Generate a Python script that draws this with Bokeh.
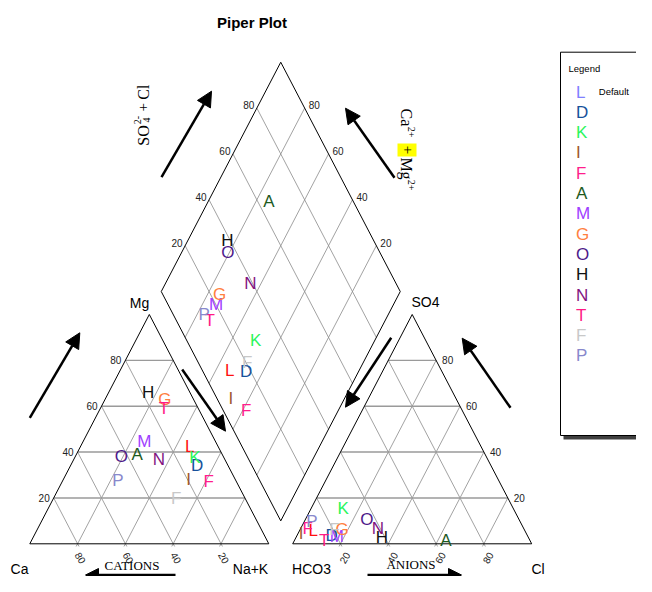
import numpy as np
from bokeh.plotting import figure
from bokeh.models import Range1d, Arrow, NormalHead, ColumnDataSource
from bokeh.core.properties import value
from bokeh.embed import file_html
from bokeh.resources import INLINE

# ---------------- data ----------------
labels = ["L", "D", "K", "I", "F", "A", "M", "G", "O", "H", "N", "T", "F", "P"]
colors = ["#FF1010", "#17519B", "#2BF55C", "#A0582D", "#FF1E8C", "#1D5A1D", "#A040FF",
          "#FF8040", "#4E1A8A", "#111111", "#82137F", "#FF1A85", "#C8C8C8", "#8888CC"]
legend_colors = ["#8080FF", "#17519B", "#2BF55C", "#A0582D", "#FF1E8C", "#1D5A1D", "#A040FF",
                 "#FF8040", "#4E1A8A", "#111111", "#82137F", "#FF1A85", "#C8C8C8", "#8888CC"]
# cations (%)
ca  = [11.9, 12.8, 12.1, 19.5, 11.6, 35.5, 29.8, 12.1, 42.7, 17.5, 27.6, 14.5, 28.9, 49.3]
mg  = [42.3, 34.3, 37.7, 28.0, 27.0, 39.1, 44.5, 62.8, 37.9, 66.0, 36.8, 58.8, 19.7, 27.7]
nak = [45.8, 52.9, 50.2, 52.5, 61.4, 25.4, 25.7, 25.1, 19.4, 16.5, 35.6, 26.7, 51.4, 23.0]
# anions (%)
hco3 = [88.5, 81.9, 71.2, 94.3, 90.4, 35.2, 79.9, 76.3, 63.7, 61.2, 61.1, 86.1, 79.5, 87.0]
so4  = [5.8, 3.6, 15.3, 4.4, 6.6, 1.4, 3.2, 6.1, 10.5, 2.9, 6.6, 1.4, 6.1, 9.9]
cl   = [5.7, 14.5, 13.5, 1.3, 3.0, 63.4, 16.9, 17.6, 25.8, 35.9, 32.3, 12.5, 14.4, 3.1]

ticks = [20, 40, 60, 80]
tick_labels = ["20", "40", "60", "80"]

# ---------------- geometry ----------------
G = 10.0                 # gap between triangles
H = np.sqrt(3) / 2
OXR = 100 + G            # origin of anion triangle
BX, BY = 100 + G / 2, G * H   # bottom vertex of diamond

W, HT = 636, 576
X0, SX = 29.3, 2.39      # screen position of x=0 and px per unit
Y0, SY = 543.3, 2.648    # screen position of y=0 and px per unit


def ax(px):
    return (px - X0) / SX


def ay(py):
    return (Y0 - py) / SY


ca_a, mg_a, nak_a = map(np.array, (ca, mg, nak))
so4_a, cl_a = np.array(so4), np.array(cl)
c_a = ca_a + mg_a
s_a = so4_a + cl_a

src = ColumnDataSource(dict(
    label=labels, color=colors,
    xl=nak_a + mg_a / 2, yl=mg_a * H,
    xr=OXR + cl_a + so4_a / 2, yr=so4_a * H,
    xd=BX + 0.5 * (s_a - c_a), yd=H * (G + c_a + s_a),
))

p = figure(width=W, height=HT, x_range=Range1d(ax(0), ax(W)), y_range=Range1d(ay(HT), ay(0)),
           output_backend="svg", toolbar_location=None, min_border=0,
           x_axis_location=None, y_axis_location=None)
p.grid.visible = False
p.outline_line_color = None
p.background_fill_color = "white"

SANS = value("Liberation Sans")
SERIF = value("Liberation Serif")
GRID = "#8a8a8a"

# triangles
for ox in (0.0, OXR):
    hx, hy, dx, dy = [], [], [], []
    for k in ticks:
        hx.append([ox + k / 2, ox + 100 - k / 2]); hy.append([k * H, k * H])
        dx.append([ox + k, ox + 50 + k / 2]); dy.append([0, (100 - k) * H])
        dx.append([ox + k, ox + k / 2]); dy.append([0, k * H])
        dx.append([ox + k - 0.6, ox + k, ox + k + 0.6]); dy.append([-1.0, 0, -1.0])
    p.multi_line(dx, dy, line_color=GRID, line_width=0.8)
    p.multi_line(hx, hy, line_color="#9a9a9a", line_width=1.4)
    p.line([ox, ox + 100, ox + 50, ox], [0, 0, 100 * H, 0], line_color="black", line_width=1)

# diamond
ux, uy, vx, vy = -0.5, H, 0.5, H
gx, gy = [], []
for k in ticks:
    gx.append([BX + k * ux, BX + k * ux + 100 * vx]); gy.append([BY + k * uy, BY + k * uy + 100 * vy])
    gx.append([BX + k * vx, BX + k * vx + 100 * ux]); gy.append([BY + k * vy, BY + k * vy + 100 * uy])
p.multi_line(gx, gy, line_color=GRID, line_width=0.8)
p.line([BX, BX + 100 * ux, BX + 100 * ux + 100 * vx, BX + 100 * vx, BX],
       [BY, BY + 100 * uy, BY + 100 * uy + 100 * vy, BY + 100 * vy, BY], line_color="black", line_width=1)

tk = np.array(ticks, dtype=float)
tfs = "10px"
TC = "#222222"
# left triangle: Mg on left edge, Ca along bottom
p.text(tk / 2 - 4 / SX, tk * H, text=tick_labels, text_align="right", text_baseline="middle",
       text_font=SANS, text_font_size=tfs, text_color=TC)
p.text(100 - tk + 3 / SX, np.full(4, -14 / SY), text=tick_labels, angle=-np.pi / 3, text_align="center",
       text_baseline="middle", text_font=SANS, text_font_size=tfs, text_color=TC)
# right triangle: SO4 on right edge, Cl along bottom
p.text(OXR + 100 - tk / 2 + 6 / SX, tk * H, text=tick_labels, text_align="left", text_baseline="middle",
       text_font=SANS, text_font_size=tfs, text_color=TC)
p.text(OXR + tk + 4 / SX, np.full(4, -14 / SY), text=tick_labels, angle=np.pi / 3, text_align="center",
       text_baseline="middle", text_font=SANS, text_font_size=tfs, text_color=TC)
# diamond edges
p.text(BX + 100 * ux + tk * vx - 2.5 / SX, BY + 100 * uy + tk * vy + 3 / SY, text=tick_labels,
       text_align="right", text_baseline="middle", text_font=SANS, text_font_size=tfs, text_color=TC)
p.text(BX + 100 * vx + tk * ux + 4 / SX, BY + 100 * vy + tk * uy + 3 / SY, text=tick_labels,
       text_align="left", text_baseline="middle", text_font=SANS, text_font_size=tfs, text_color=TC)

# vertex labels
vx_px = [139, 425, 19, 250, 311, 537.5]
vy_px = [302, 301.5, 568, 568, 568, 568]
p.text([ax(v) for v in vx_px], [ay(v) for v in vy_px],
       text=["Mg", "SO4", "Ca", "Na+K", "HCO3", "Cl"], text_align="center", text_baseline="middle",
       text_font=SANS, text_font_size="14px", text_color="black")
p.text([ax(131.5), ax(410.5)], [ay(564.5), ay(564)], text=["CATIONS", "ANIONS"], text_align="center",
       text_baseline="middle", text_font=SERIF, text_font_size="13px", text_color="black")
p.text([ax(251.5)], [ay(22)], text=["Piper Plot"], text_align="center", text_baseline="middle",
       text_font=SANS, text_font_size="15px", text_font_style="bold", text_color="black")

# rotated axis titles of the diamond
p.text([ax(142.5), ax(142.5)], [ay(135), ay(91.7)], text=["SO", "Cl"], angle=np.pi / 2, text_align="center",
       text_baseline="middle", text_font=SERIF, text_font_size="16px", text_color="black")
p.text([ax(142.5)], [ay(106.7)], text=["+"], angle=np.pi / 2, text_align="center",
       text_baseline="middle", text_font=SERIF, text_font_size="15px", text_color="black")
p.text([ax(146.3), ax(137)], [ay(119.5), ay(119.5)], text=["4", "2-"], angle=np.pi / 2, text_align="center",
       text_baseline="middle", text_font=SERIF, text_font_size="10px", text_color="black")

p.quad(left=[ax(397)], right=[ax(416)], top=[ay(143)], bottom=[ay(156)], fill_color="#FFFF00", line_color=None)
p.text([ax(406), ax(406)], [ay(117), ay(168)], text=["Ca", "Mg"], angle=-np.pi / 2, text_align="center",
       text_baseline="middle", text_font=SERIF, text_font_size="16px", text_color="black")
p.text([ax(407)], [ay(149.5)], text=["+"], angle=-np.pi / 2, text_align="center",
       text_baseline="middle", text_font=SERIF, text_font_size="15px", text_color="black")
p.text([ax(410.5), ax(410.5)], [ay(131.5), ay(184.5)], text=["2+", "2+"], angle=-np.pi / 2, text_align="center",
       text_baseline="middle", text_font=SERIF, text_font_size="10px", text_color="black")

# arrows (tail -> tip, screen pixels)
arrows = [
    (161, 176.7, 211, 90.7),
    (394, 177.3, 345, 107.7),
    (29.3, 417.3, 79.3, 332.3),
    (181.7, 369, 225, 430.7),
    (390.7, 337.3, 345, 406.7),
    (510, 407.3, 461.7, 337.7),
    (175, 574.5, 85, 574.5),
    (367, 574.5, 461, 574.5),
]
for i, (xs, ys, xe, ye) in enumerate(arrows):
    size = 15 if i < 6 else 13
    p.add_layout(Arrow(end=NormalHead(size=size, fill_color="black", line_color="black"),
                       x_start=ax(xs), y_start=ay(ys), x_end=ax(xe), y_end=ay(ye),
                       line_width=2.5, line_color="black"))

# data markers
for xc, yc in (("xl", "yl"), ("xr", "yr"), ("xd", "yd")):
    p.text(x=xc, y=yc, text="label", source=src, text_color="color", text_align="center",
           text_baseline="middle", text_font=SANS, text_font_size="17px")

# legend box (runs past the right edge; shadow strip under its bottom)
p.quad(left=[ax(563)], right=[ax(700)], top=[ay(435.5)], bottom=[ay(439)], fill_color="#404040", line_color=None)
p.quad(left=[ax(560)], right=[ax(700)], top=[ay(51.7)], bottom=[ay(435)], fill_color="white", line_color=None)
p.line([ax(700), ax(560), ax(560), ax(700)], [ay(51.7), ay(51.7), ay(435), ay(435)],
       line_color="black", line_width=1)
p.text([ax(568), ax(598.3)], [ay(68), ay(91)], text=["Legend", "Default"], text_align="left",
       text_baseline="middle", text_font=SANS, text_font_size="9.5px", text_color="black")
ly = ay(91.5) - (20.3 / SY) * np.arange(len(labels))
p.text(np.full(len(labels), ax(575.5)), ly, text=labels, text_color=legend_colors, text_align="left",
       text_baseline="middle", text_font=SANS, text_font_size="17px")

open("out.html", "w").write(file_html(p, INLINE))
